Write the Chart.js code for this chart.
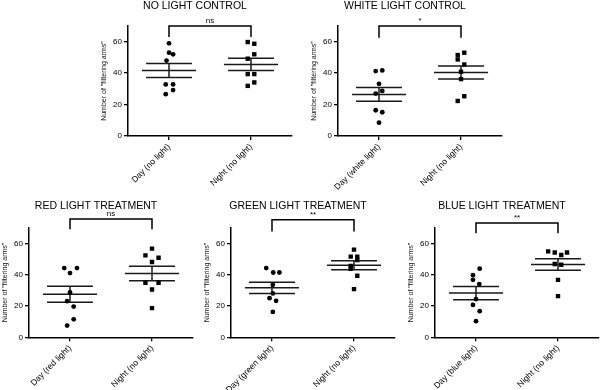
<!DOCTYPE html>
<html>
<head>
<meta charset="utf-8">
<title>Filtering arms - day vs night</title>
<script src="https://cdn.jsdelivr.net/npm/chart.js@4.4.1/dist/chart.umd.min.js"></script>
<style>
  html, body { margin: 0; padding: 0; background: #fff; }
  #stage { position: relative; width: 600px; height: 390px; overflow: hidden; }
  #stage canvas { position: absolute; }
</style>
</head>
<body>
<div id="stage">
  <canvas id="noLight" width="210" height="195" style="left:98px;top:0px"></canvas>
  <canvas id="whiteLight" width="210" height="195" style="left:308px;top:0px"></canvas>
  <canvas id="redLight" width="210" height="195" style="left:-1px;top:195px"></canvas>
  <canvas id="greenLight" width="210" height="195" style="left:201px;top:195px"></canvas>
  <canvas id="blueLight" width="210" height="195" style="left:405px;top:195px"></canvas>
</div>
<script>
// Values (8 animals per group)
const noLightLabels = ['Day (no light)', 'Night (no light)'];
const noLightDay = [59, 53, 52, 48, 32.8, 32.8, 29.2, 26.6];
const noLightNight = [59.8, 58.7, 52, 49.2, 39.4, 39.4, 34.1, 31.9];

const whiteLabels = ['Day (white light)', 'Night (no light)'];
const whiteDay = [41.3, 41.7, 33.2, 27, 28.7, 16.4, 15.1, 8.5];
const whiteNight = [53, 51.5, 48.7, 45.5, 40.9, 36.2, 25.3, 22.3];

const redLabels = ['Day (red light)', 'Night (no light)'];
const redDay = [44.2, 44.2, 41, 28.6, 23.1, 19.6, 11.5, 7.5];
const redNight = [56.6, 52.3, 50.8, 48.1, 34.8, 34.8, 30.5, 18.6];

const greenLabels = ['Day (green light)', 'Night (no light)'];
const greenDay = [44.2, 41.4, 41.4, 33.5, 28, 25, 23.3, 16.2];
const greenNight = [56, 51.5, 51.5, 49.4, 45.5, 43.8, 39.3, 30.8];

const blueLabels = ['Day (blue light)', 'Night (no light)'];
const blueDay = [43.8, 39.7, 36.7, 34, 24.4, 20.7, 16.7, 10.3];
const blueNight = [54.9, 54.2, 54.2, 52.6, 46.8, 46.3, 36.7, 26.3];

const panelTitles = ['NO LIGHT CONTROL', 'WHITE LIGHT CONTROL', 'RED LIGHT TREATMENT', 'GREEN LIGHT TREATMENT', 'BLUE LIGHT TREATMENT'];
const significance = ['ns', '*', 'ns', '**', '**'];
const bracketTop = [70, 70, 75.5, 75, 73];
const bracketFoot = [63, 62.5, 69, 67.5, 66.5];
const yTicks = [0, 20, 40, 60];

// horizontal scatter of the dots (category units), as in the figure
const noLightDaySpread = [0, 0, 0.05, -0.03, -0.04, 0.05, 0.05, -0.04];
const noLightNightSpread = [-0.04, 0.04, 0.04, -0.04, 0.04, -0.04, 0.04, -0.04];
const whiteDaySpread = [-0.04, 0.04, 0, -0.04, 0.04, -0.04, 0.04, 0];
const whiteNightSpread = [0.04, -0.04, -0.04, 0.04, 0, 0, 0.04, -0.04];
const redDaySpread = [-0.07, 0.085, 0, 0, -0.035, 0.045, 0.045, -0.035];
const redNightSpread = [0, -0.08, 0.08, 0, -0.08, 0.08, 0, 0];
const greenDaySpread = [-0.07, 0.015, 0.09, 0.01, 0.01, -0.03, 0.05, 0.01];
const greenNightSpread = [0, -0.04, 0.04, 0.04, -0.04, -0.04, 0.04, 0];
const blueDaySpread = [0.045, -0.037, -0.037, 0.04, 0, -0.037, 0.045, 0];
const blueNightSpread = [-0.12, -0.04, 0.11, 0.04, -0.04, 0.04, 0, 0];

Chart.defaults.font.family = '"Liberation Sans", Arial, Helvetica, sans-serif';
Chart.defaults.color = '#000';

/**
 * Mean and standard error of one group
 */
function meanSem(values) {
  const n = values.length;
  const mean = values.reduce((s, v) => s + v, 0) / n;
  const sd = Math.sqrt(values.reduce((s, v) => s + (v - mean) ** 2, 0) / (n - 1));
  return { mean, sem: sd / Math.sqrt(n) };
}

/**
 * Mean line, SEM caps and the vertical bar, split by gaps
 */
function errorBarPoints(pos, values) {
  const { mean, sem } = meanSem(values);
  return [
    { x: pos - 0.33, y: mean }, { x: pos + 0.33, y: mean }, { x: pos, y: null },
    { x: pos - 0.28, y: mean + sem }, { x: pos + 0.28, y: mean + sem }, { x: pos, y: null },
    { x: pos - 0.28, y: mean - sem }, { x: pos + 0.28, y: mean - sem }, { x: pos, y: null },
    { x: pos, y: mean - sem }, { x: pos, y: mean + sem },
  ];
}

function dots(pos, values, spread) {
  return values.map((v, i) => ({ x: pos + spread[i], y: v }));
}

// draws the "ns" / "*" label above the bracket
const sigLabelPlugin = {
  id: 'sigLabel',
  afterDatasetsDraw(chart, args, opts) {
    const { ctx, scales: { x, y } } = chart;
    ctx.save();
    ctx.fillStyle = '#000';
    ctx.font = '8px "Liberation Sans", Arial, sans-serif';
    ctx.textAlign = 'center';
    ctx.textBaseline = 'bottom';
    ctx.fillText(opts.text, x.getPixelForValue(1.5), y.getPixelForValue(opts.level) - 1.5);
    ctx.restore();
  },
};

function buildPanel(canvasId, idx, labels, day, night, daySpread, nightSpread, topRow) {
  const ctx = document.getElementById(canvasId).getContext('2d');
  const lineStyle = { type: 'line', showLine: true, pointRadius: 0, borderColor: '#1a1a1a', borderWidth: 1.5, spanGaps: false };

  return new Chart(ctx, {
    type: 'scatter',
    data: {
      datasets: [
        { data: dots(1, day, daySpread), pointStyle: 'circle', pointRadius: 2.4, backgroundColor: '#000', borderWidth: 0 },
        { data: dots(2, night, nightSpread), pointStyle: 'rect', pointRadius: 3.1, backgroundColor: '#000', borderWidth: 0 },
        { ...lineStyle, data: errorBarPoints(1, day) },
        { ...lineStyle, data: errorBarPoints(2, night) },
        {
          ...lineStyle,
          borderColor: '#000',
          borderJoinStyle: 'miter',
          clip: false,
          data: [
            { x: 1, y: bracketFoot[idx] }, { x: 1, y: bracketTop[idx] },
            { x: 2, y: bracketTop[idx] }, { x: 2, y: bracketFoot[idx] },
          ],
        },
      ],
    },
    options: {
      responsive: false,
      animation: false,
      events: [],
      layout: { padding: { left: 0, right: 16, top: 0, bottom: 0 } },
      plugins: {
        legend: { display: false },
        tooltip: { enabled: false },
        title: {
          display: true,
          text: panelTitles[idx],
          color: '#000',
          font: { size: 10.5, weight: 'normal', lineHeight: 1.2 },
          padding: topRow ? { top: 0, bottom: 13.4 } : { top: 4.7, bottom: 15.4 },
        },
        sigLabel: { text: significance[idx], level: bracketTop[idx] },
      },
      scales: {
        x: {
          type: 'linear',
          min: 0.5,
          max: 2.5,
          afterBuildTicks: (scale) => { scale.ticks = labels.map((l, i) => ({ value: i + 1 })); },
          afterFit: (scale) => { scale.height = topRow ? 59 : 52.7; },
          ticks: {
            autoSkip: false,
            minRotation: 45,
            maxRotation: 45,
            padding: 2,
            font: { size: 8.5 },
            callback: (v) => labels[v - 1],
          },
          grid: { drawOnChartArea: false, drawTicks: true, tickLength: 4, color: '#000', lineWidth: 1.3 },
          border: { display: true, color: '#000', width: 1.5 },
        },
        y: {
          min: 0,
          max: 70,
          afterBuildTicks: (scale) => { scale.ticks = yTicks.map((v) => ({ value: v })); },
          afterFit: (scale) => { scale.width = 30; },
          ticks: { padding: 2, font: { size: 8 } },
          grid: { drawOnChartArea: false, drawTicks: true, tickLength: 4, color: '#000', lineWidth: 1.3 },
          border: { display: true, color: '#000', width: 1.5 },
          title: {
            display: true,
            text: 'Number of "filtering arms"',
            color: '#111',
            font: { size: 7, lineHeight: 1.2 },
            padding: { top: 1.8, bottom: 0 },
          },
        },
      },
    },
    plugins: [sigLabelPlugin],
  });
}

buildPanel('noLight', 0, noLightLabels, noLightDay, noLightNight, noLightDaySpread, noLightNightSpread, true);
buildPanel('whiteLight', 1, whiteLabels, whiteDay, whiteNight, whiteDaySpread, whiteNightSpread, true);
buildPanel('redLight', 2, redLabels, redDay, redNight, redDaySpread, redNightSpread, false);
buildPanel('greenLight', 3, greenLabels, greenDay, greenNight, greenDaySpread, greenNightSpread, false);
buildPanel('blueLight', 4, blueLabels, blueDay, blueNight, blueDaySpread, blueNightSpread, false);
</script>
</body>
</html>
